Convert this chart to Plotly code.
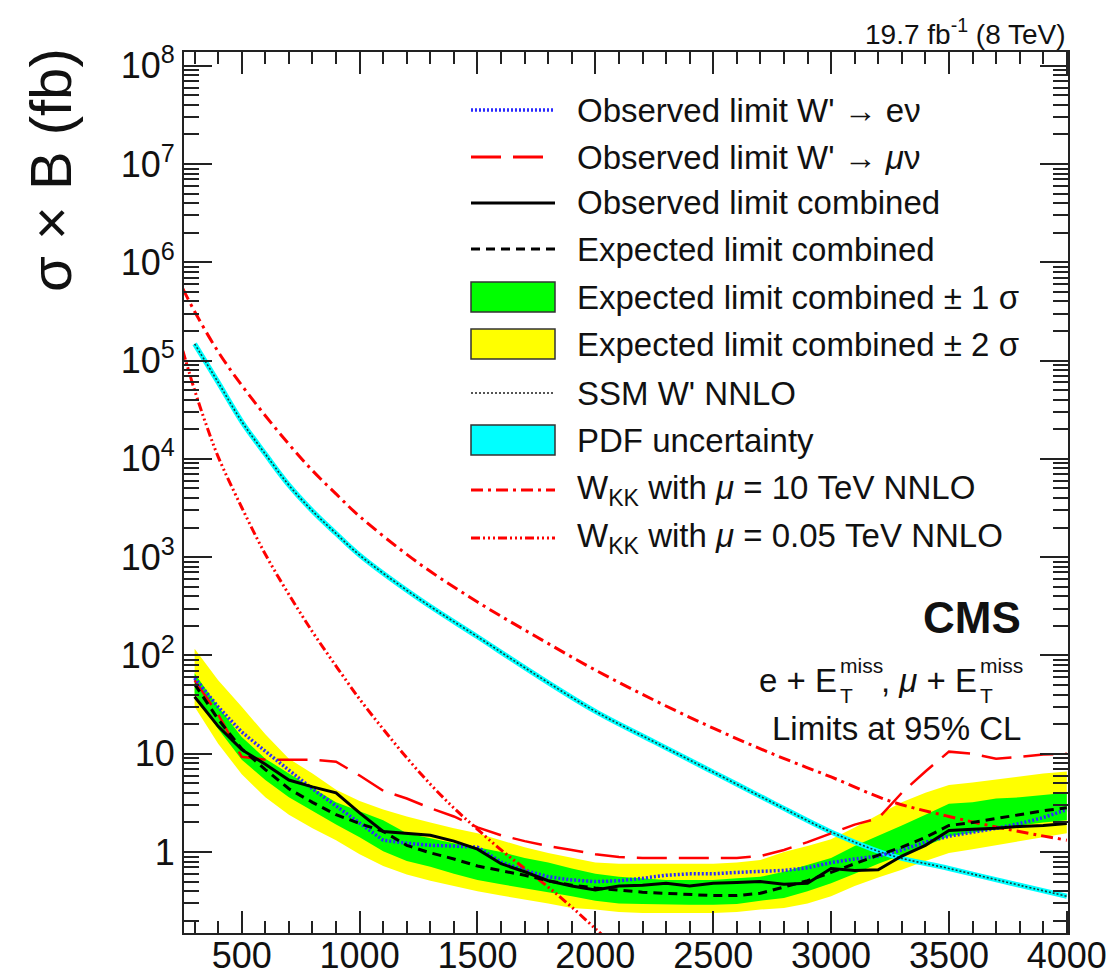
import plotly.graph_objects as go

# ---------------------------------------------------------------- data (fb)
mass = [300, 400, 500, 600, 700, 800, 900, 1000, 1100, 1200, 1300, 1400,
        1500, 1600, 1700, 1800, 1900, 2000, 2100, 2200, 2300, 2400, 2500,
        2600, 2700, 2800, 2900, 3000, 3100, 3200, 3300, 3400, 3500, 3600,
        3700, 3800, 3900, 4000]

obs_enu = [59, 30, 16.6, 10.5, 6.8, 4.4, 2.95, 2.0, 1.32, 1.23, 1.17, 1.15,
           1.12, 0.79, 0.65, 0.56, 0.52, 0.50, 0.51, 0.54, 0.58, 0.60, 0.60,
           0.62, 0.63, 0.65, 0.69, 0.78, 0.85, 0.91, 1.05, 1.26, 1.45, 1.58,
           1.74, 1.95, 2.24, 2.7]

obs_munu = [56, 25, 9.3, 8.7, 8.7, 8.7, 8.3, 6.0, 4.2, 3.5, 2.8, 2.3,
            1.78, 1.48, 1.29, 1.15, 1.05, 0.95, 0.89, 0.87, 0.87, 0.87, 0.87,
            0.87, 0.91, 1.05, 1.26, 1.55, 1.9, 2.2, 4.0, 6.6, 10.5, 10.0,
            8.9, 9.3, 9.8, 10.0]

obs_comb = [38, 19, 11, 7.8, 5.4, 4.6, 4.0, 2.5, 1.62, 1.55, 1.48, 1.29,
            1.07, 0.76, 0.63, 0.51, 0.45, 0.41, 0.45, 0.46, 0.48, 0.45, 0.48,
            0.49, 0.50, 0.47, 0.48, 0.68, 0.65, 0.66, 0.91, 1.17, 1.66, 1.70,
            1.74, 1.82, 1.86, 1.95]

exp_comb = [51, 22.4, 11.2, 6.9, 4.4, 3.2, 2.4, 1.95, 1.62, 1.17, 0.98, 0.85,
            0.72, 0.65, 0.58, 0.51, 0.46, 0.43, 0.41, 0.39, 0.38, 0.37, 0.36,
            0.36, 0.38, 0.44, 0.51, 0.62, 0.76, 0.93, 1.12, 1.41, 1.86, 2.0,
            2.19, 2.4, 2.63, 2.82]

exp_1s_up = [66, 30, 14.8, 8.9, 6.3, 4.5, 3.2, 2.6, 2.1, 1.55, 1.38, 1.23,
             1.12, 1.0, 0.87, 0.78, 0.68, 0.60, 0.56, 0.54, 0.52, 0.52, 0.52,
             0.54, 0.56, 0.63, 0.74, 0.87, 1.15, 1.45, 1.86, 2.4, 3.1, 3.2,
             3.5, 3.6, 3.8, 4.0]

exp_1s_dn = [41, 17.8, 8.7, 5.4, 3.6, 2.6, 1.9, 1.41, 1.02, 0.81, 0.71, 0.60,
             0.52, 0.47, 0.43, 0.39, 0.355, 0.32, 0.30, 0.295, 0.29, 0.29,
             0.29, 0.295, 0.32, 0.34, 0.40, 0.48, 0.60, 0.76, 0.93, 1.15, 1.45,
             1.58, 1.7, 1.86, 2.0, 2.1]

exp_2s_up = [117, 56, 30, 15.8, 8.9, 6.3, 4.3, 3.3, 2.7, 2.3, 2.0, 1.74,
             1.55, 1.32, 1.12, 0.98, 0.87, 0.78, 0.76, 0.76, 0.76, 0.76, 0.76,
             0.78, 0.83, 1.0, 1.15, 1.35, 1.78, 2.4, 3.2, 4.0, 4.8, 5.1,
             5.5, 5.9, 6.3, 6.6]

exp_2s_dn = [30, 12.6, 6.2, 3.6, 2.4, 1.74, 1.32, 0.95, 0.72, 0.59, 0.51, 0.45,
             0.40, 0.36, 0.33, 0.30, 0.27, 0.26, 0.245, 0.24, 0.24, 0.24, 0.24,
             0.245, 0.26, 0.27, 0.30, 0.355, 0.45, 0.55, 0.66, 0.81, 0.98,
             1.07, 1.17, 1.29, 1.41, 1.55]

ssm_mass = [300, 400, 500, 600, 700, 800, 900, 1000, 1250, 1500, 1750, 2000,
            2250, 2500, 2750, 3000, 3250, 3500, 3750, 4000]
ssm_nnlo = [1.48e5, 6.0e4, 2.4e4, 1.12e4, 5.4e3, 2.95e3, 1.74e3, 1.05e3, 380,
            155, 63, 27, 13.2, 6.5, 3.2, 1.6, 0.93, 0.68, 0.49, 0.355]

wkk10_mass = [250, 300, 400, 500, 600, 700, 800, 900, 1000, 1250, 1500, 1750,
              2000, 2250, 2500, 2750, 3000, 3250, 3500, 3750, 4000]
wkk10_nnlo = [5.4e5, 3.16e5, 1.23e5, 5.6e4, 2.75e4, 1.41e4, 7.6e3, 4.4e3,
              2.6e3, 870, 350, 155, 71, 35, 18.2, 10, 5.8, 3.3, 2.3, 1.7, 1.32]

wkk005_mass = [250, 300, 350, 400, 500, 600, 700, 800, 900, 1000, 1100, 1200,
               1300, 1400, 1500, 1600, 1700, 1800, 1900, 2000, 2100]
wkk005_nnlo = [1.26e5, 5.0e4, 2.2e4, 1.05e4, 3.2e3, 1.07e3, 417, 174, 78, 36,
               17.8, 9.1, 4.9, 2.8, 1.7, 1.05, 0.68, 0.44, 0.275, 0.166, 0.10]

x_ticks = [500, 1000, 1500, 2000, 2500, 3000, 3500, 4000]
y_ticks = [1, 10, 1e2, 1e3, 1e4, 1e5, 1e6, 1e7, 1e8]
y_ticktext = ["1", "10", "10<sup>2</sup>", "10<sup>3</sup>", "10<sup>4</sup>",
              "10<sup>5</sup>", "10<sup>6</sup>", "10<sup>7</sup>",
              "10<sup>8</sup>"]

# ---------------------------------------------------------------- styles
FONT = "Liberation Sans, Arial, Helvetica, sans-serif"
INK = "#111111"
RED = "#ff0000"
BLUE = "#2a2aff"
YELLOW = "#ffff00"
GREEN = "#00ff00"
CYAN = "#00ffff"

DASH_MU = "30px,12px"
DASH_EXP = "9px,6px"
DASH_DOT = "12px,5px,3px,5px"
DASH_DOT3 = "9px,3px,2px,3px,2px,3px,2px,3px"
DOTS = "2px,2px"

fig = go.Figure()

# expected +-2 sigma band
fig.add_trace(go.Scatter(x=mass, y=exp_2s_dn, mode="lines",
                         line=dict(width=0, color=YELLOW), hoverinfo="skip"))
fig.add_trace(go.Scatter(x=mass, y=exp_2s_up, mode="lines", fill="tonexty",
                         fillcolor=YELLOW, line=dict(width=0, color=YELLOW)))
# expected +-1 sigma band
fig.add_trace(go.Scatter(x=mass, y=exp_1s_dn, mode="lines",
                         line=dict(width=0, color=GREEN), hoverinfo="skip"))
fig.add_trace(go.Scatter(x=mass, y=exp_1s_up, mode="lines", fill="tonexty",
                         fillcolor=GREEN, line=dict(width=0, color=GREEN)))

# SSM W' prediction: PDF uncertainty band drawn as a thick cyan stroke
fig.add_trace(go.Scatter(x=ssm_mass, y=ssm_nnlo, mode="lines",
                         line=dict(color=CYAN, width=5, shape="spline")))
fig.add_trace(go.Scatter(x=ssm_mass, y=ssm_nnlo, mode="lines",
                         line=dict(color="#1a3a3a", width=1.6, dash=DOTS,
                                   shape="spline")))

# W_KK predictions
fig.add_trace(go.Scatter(x=wkk10_mass, y=wkk10_nnlo, mode="lines",
                         line=dict(color=RED, width=3, dash=DASH_DOT,
                                   shape="spline")))
fig.add_trace(go.Scatter(x=wkk005_mass, y=wkk005_nnlo, mode="lines",
                         line=dict(color=RED, width=3, dash=DASH_DOT3,
                                   shape="spline")))

# observed limits per channel
fig.add_trace(go.Scatter(x=mass, y=obs_munu, mode="lines",
                         line=dict(color=RED, width=2.5, dash=DASH_MU)))
fig.add_trace(go.Scatter(x=mass, y=obs_enu, mode="lines",
                         line=dict(color=BLUE, width=3.5, dash=DOTS)))
# combined expected and observed
fig.add_trace(go.Scatter(x=mass, y=exp_comb, mode="lines",
                         line=dict(color="black", width=3, dash=DASH_EXP)))
fig.add_trace(go.Scatter(x=mass, y=obs_comb, mode="lines",
                         line=dict(color="black", width=3)))

# ---------------------------------------------------------------- frame geometry
L, R, T, B = 184, 1068, 52, 933
W_PLOT, H_PLOT = R - L, B - T


def fx(px):
    return (px - L) / W_PLOT


def fy(py):
    return (B - py) / H_PLOT


def label(text, x, y, size, xanchor="left", **kw):
    return dict(xref="paper", yref="paper", x=fx(x), y=fy(y),
                xanchor=xanchor, yanchor="middle", showarrow=False, text=text,
                font=dict(family=FONT, size=size, color=INK), **kw)


# ---------------------------------------------------------------- legend
shapes = []
annotations = []
sym_x0, sym_x1, text_x = 471, 555, 575
rows = [
    ("line", dict(color=BLUE, width=3.5, dash=DOTS),
     "Observed limit W' \u2192 e\u03bd"),
    ("line", dict(color=RED, width=3, dash=DASH_MU),
     "Observed limit W' \u2192 <i>\u03bc</i>\u03bd"),
    ("line", dict(color="black", width=3), "Observed limit combined"),
    ("line", dict(color="black", width=3, dash=DASH_EXP),
     "Expected limit combined"),
    ("box", GREEN, "Expected limit combined \u00b1 1 \u03c3"),
    ("box", YELLOW, "Expected limit combined \u00b1 2 \u03c3"),
    ("line", dict(color="#555555", width=2, dash=DOTS), "SSM W' NNLO"),
    ("box", CYAN, "PDF uncertainty"),
    ("line", dict(color=RED, width=3, dash=DASH_DOT),
     "W<sub>KK</sub> with <i>\u03bc</i> = 10 TeV NNLO"),
    ("line", dict(color=RED, width=3, dash=DASH_DOT3),
     "W<sub>KK</sub> with <i>\u03bc</i> = 0.05 TeV NNLO"),
]
row_y = [110, 157, 203, 249, 297, 344, 393, 440, 490, 538]
for (kind, style, text), yc in zip(rows, row_y):
    if kind == "line":
        shapes.append(dict(type="line", xref="paper", yref="paper",
                           x0=fx(sym_x0), x1=fx(sym_x1), y0=fy(yc), y1=fy(yc),
                           line=style))
    else:
        shapes.append(dict(type="rect", xref="paper", yref="paper",
                           x0=fx(sym_x0), x1=fx(sym_x1),
                           y0=fy(yc + 15), y1=fy(yc - 15),
                           fillcolor=style, line=dict(color="#333333", width=1.5)))
    annotations.append(label(text, text_x, yc, 33))

# ---------------------------------------------------------------- labels
# channel line: each E carries "miss" above and "T" below, stacked
stack_x = [839, 979]
annotations += [
    label("\u03c3 \u00d7 B (fb)", 50, 170, 58, xanchor="center",
          textangle=-90),
    label("19.7 fb<sup>-1</sup> (8 TeV)", 1068, 32, 28, xanchor="right"),
    label("<b>CMS</b>", 1023, 618, 44, xanchor="right"),
    label("e + E", stack_x[0], 680, 33, xanchor="right"),
    label(", <i>\u03bc</i> + E", stack_x[1], 680, 33, xanchor="right"),
    label("Limits at 95% CL", 1023, 728, 33, xanchor="right"),
]
for sx in stack_x:
    annotations.append(label("miss", sx - 1, 665, 21))
    annotations.append(label("T", sx - 1, 695, 21))

x_minor = [m for m in range(300, 4001, 100) if m % 500 != 0]
y_minor = [k * 10 ** e for e in range(-1, 9) for k in range(2, 10)]

fig.update_layout(
    width=1112, height=975,
    margin=dict(l=L, r=1112 - R, t=T, b=975 - B, autoexpand=False),
    paper_bgcolor="white", plot_bgcolor="white",
    showlegend=False,
    shapes=shapes, annotations=annotations,
    font=dict(family=FONT, color=INK),
    xaxis=dict(range=[255, 4005], tickvals=x_ticks,
               ticktext=[str(v) for v in x_ticks], automargin=False,
               ticklabelstandoff=-10,
               ticks="inside", ticklen=22, tickwidth=1.5, tickcolor="#222",
               showline=True, linewidth=2, linecolor="#222", mirror="allticks",
               showgrid=False, zeroline=False,
               tickfont=dict(family=FONT, size=36, color=INK),
               minor=dict(tickvals=x_minor, ticks="inside", ticklen=12,
                          tickwidth=1.5, tickcolor="#222", showgrid=False)),
    yaxis=dict(type="log", range=[-0.824, 8.14], tickvals=y_ticks,
               ticktext=y_ticktext, automargin=False,
               ticks="inside", ticklen=28, tickwidth=1.5, tickcolor="#222",
               showline=True, linewidth=2, linecolor="#222", mirror="allticks",
               showgrid=False, zeroline=False,
               tickfont=dict(family=FONT, size=36, color=INK),
               minor=dict(tickvals=y_minor, ticks="inside", ticklen=15,
                          tickwidth=1.5, tickcolor="#222", showgrid=False)),
)

fig.write_html("out.html")
